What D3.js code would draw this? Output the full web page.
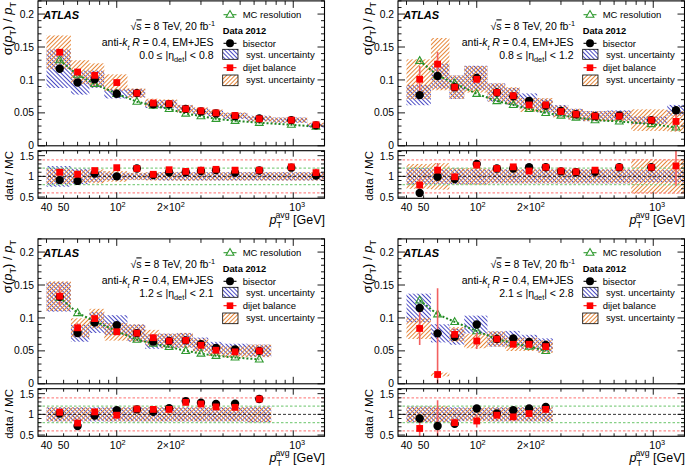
<!DOCTYPE html>
<html><head><meta charset="utf-8">
<script src="https://cdn.jsdelivr.net/npm/d3@7"></script>
<style>body{margin:0;background:#fff}svg{display:block}text{font-family:"Liberation Sans",Arial,Helvetica,sans-serif;fill:#000}</style>
</head><body><svg id="c" width="685" height="468"></svg>
<script>
// ---------------- data ----------------
const binEdges   = [40,55,70,85,115,145,175,220,270,330,400,550,750,1200,1500];
const binCenters = [47.5,60,75,100,130,161,198,246,300,365,468,642,975,1345];
const xTickLabels = [[40,"40"],[50,"50"],[100,"10","2"],[200,"2×10","2"],[1000,"10","3"]];
const mainYTicks = ["0","0.05","0.1","0.15","0.2"];
const ratioYTicks = ["0.5","1","1.5"];
const etaRanges = [["0.0","0.8"],["0.8","1.2"],["1.2","2.1"],["2.1","2.8"]];

// panel 1 : 0.0 <= |eta| < 0.8
const p1_mc   = [0.130,0.108,0.094,0.079,0.067,0.061,0.056,0.049,0.045,0.041,0.038,0.035,0.032,0.029];
const p1_bis  = [0.117,0.096,0.101,0.079,0.080,0.063,0.063,0.056,0.052,0.049,0.045,0.0415,0.039,0.031];
const p1_dij  = [0.142,0.112,0.107,0.096,0.080,0.065,0.064,0.056,0.053,0.050,0.046,0.041,0.039,0.032];
const p1_rbis = [0.91,0.89,1.07,1.00,1.19,1.03,1.10,1.10,1.13,1.15,1.09,1.14,1.21,1.02];
const p1_rdij = [1.10,1.05,1.14,1.21,1.19,1.05,1.16,1.12,1.15,1.17,1.15,1.15,1.23,1.09];
const p1_sysb = [0.25,0.19,0.13,0.09,0.08,0.09,0.10,0.10,0.10,0.10,0.10,0.10,0.10,0.10];
const p1_sysd = [0.18,0.16,0.17,0.13,0.09,0.10,0.10,0.11,0.10,0.10,0.10,0.10,0.10,0.10];
const p1_stat = [0.02,0.02,0.02,0.01,0.01,0.01,0.01,0.01,0.01,0.01,0.01,0.02,0.03,0.09];

// panel 2 : 0.8 <= |eta| < 1.2
const p2_mc   = [0.129,0.107,0.095,0.079,0.068,0.062,0.056,0.050,0.046,0.043,0.039,0.037,0.033,0.028];
const p2_bis  = [0.077,0.106,0.089,0.103,0.081,0.075,0.068,0.061,0.053,0.048,0.045,0.046,0.039,0.054];
const p2_dij  = [0.101,0.124,0.089,0.101,0.081,0.076,0.062,0.062,0.052,0.048,0.045,0.045,0.039,0.037];
const p2_rbis = [0.60,0.99,0.935,1.30,1.19,1.19,1.22,1.22,1.12,1.10,1.11,1.22,1.22,1.93];
const p2_rdij = [0.79,1.15,0.99,1.27,1.19,1.23,1.13,1.22,1.13,1.11,1.15,1.22,1.22,1.25];
const p2_sysb = [0.20,0.18,0.20,0.18,0.17,0.17,0.17,0.17,0.17,0.17,0.17,0.17,0.15,0.15];
const p2_sysd = [0.30,0.32,0.20,0.20,0.17,0.17,0.17,0.17,0.17,0.17,0.17,0.17,0.42,0.42];
const p2_stat = [0.20,0.15,0.05,0.05,0.03,0.03,0.03,0.03,0.02,0.02,0.02,0.02,0.03,0.38];

// panel 3 : 1.2 <= |eta| < 2.1
const p3_mc   = [0.131,0.1075,0.095,0.080,0.067,0.061,0.056,0.050,0.046,0.0425,0.040,0.037];
const p3_bis  = [0.132,0.077,0.093,0.089,0.077,0.064,0.065,0.066,0.060,0.0545,0.052,0.050];
const p3_dij  = [0.133,0.085,0.099,0.079,0.077,0.070,0.065,0.066,0.0585,0.051,0.0485,0.050];
const p3_rbis = [1.02,0.72,0.97,1.10,1.12,1.06,1.15,1.32,1.28,1.25,1.26,1.37];
const p3_rdij = [1.05,0.79,1.06,0.98,1.13,1.12,1.12,1.29,1.25,1.18,1.17,1.37];
const p3_sysb = [0.17,0.17,0.17,0.17,0.17,0.17,0.17,0.17,0.17,0.17,0.17,0.19];
const p3_sysd = [0.17,0.17,0.15,0.17,0.17,0.17,0.17,0.17,0.17,0.17,0.17,0.19];
const p3_stat = [0.11,0.08,0.04,0.03,0.03,0.02,0.02,0.02,0.02,0.02,0.02,0.02];

// panel 4 : 2.1 <= |eta| < 2.8
const p4_mc   = [0.1266,0.1056,0.094,0.080,0.068,0.0615,0.0565,0.050];
const p4_bis  = [0.115,0.0766,0.0715,0.090,0.068,0.0687,0.0636,0.059];
const p4_dij  = [0.084,0.0141,0.075,0.065,0.068,0.060,0.060,0.0565];
const p4_rbis = [0.90,0.72,0.77,1.14,1.02,1.10,1.14,1.18];
const p4_rdij = [0.66,0.13,0.80,0.84,0.98,0.94,1.02,1.12];
const p4_sysb = [0.19,0.18,0.17,0.15,0.17,0.17,0.17,0.17];
const p4_sysd = [0.19,0.20,0.15,0.17,0.17,0.17,0.17,0.17];
const p4_stat = [0.30,9.3,0.12,0.19,0.05,0.05,0.04,0.04];

const panels = [
  {mc:p1_mc,bis:p1_bis,dij:p1_dij,rbis:p1_rbis,rdij:p1_rdij,sysb:p1_sysb,sysd:p1_sysd,stat:p1_stat,eta:etaRanges[0],ox:0,oy:0},
  {mc:p2_mc,bis:p2_bis,dij:p2_dij,rbis:p2_rbis,rdij:p2_rdij,sysb:p2_sysb,sysd:p2_sysd,stat:p2_stat,eta:etaRanges[1],ox:360,oy:0},
  {mc:p3_mc,bis:p3_bis,dij:p3_dij,rbis:p3_rbis,rdij:p3_rdij,sysb:p3_sysb,sysd:p3_sysd,stat:p3_stat,eta:etaRanges[2],ox:0,oy:238},
  {mc:p4_mc,bis:p4_bis,dij:p4_dij,rbis:p4_rbis,rdij:p4_rdij,sysb:p4_sysb,sysd:p4_sysd,stat:p4_stat,eta:etaRanges[3],ox:360,oy:238}
];

// ---------------- drawing ----------------
const BLUE="#4a4ac4", ORANGE="#e6873a", RED="#ff0000", GREEN="#2f9a2f", DKGREEN="#1f861f";
const svg = d3.select("#c");
const defs = svg.append("defs");
function hatch(id,color,angle){
  const p=defs.append("pattern").attr("id",id).attr("patternUnits","userSpaceOnUse")
    .attr("width",3).attr("height",3).attr("patternTransform",`rotate(${angle})`);
  p.append("line").attr("x1",0.5).attr("y1",-1).attr("x2",0.5).attr("y2",4)
    .attr("stroke",color).attr("stroke-width",1);
}
hatch("hb",BLUE,-45); hatch("ho",ORANGE,45);

function rich(g,x,y,parts,size,anchor){
  const t=g.append("text").attr("x",x).attr("y",y).attr("font-size",size).attr("text-anchor",anchor||"start");
  let cur=0;
  parts.forEach(p=>{
    if(typeof p==="string") p={t:p};
    let off=0;
    if(p.off!==undefined) off=p.off; else if(p.sub) off=size*0.3; else if(p.sup) off=-size*0.4;
    const ts=t.append("tspan").text(p.t).attr("dy",off-cur);
    cur=off;
    if(p.sub||p.sup) ts.attr("font-size",size*0.7);
    if(p.fs) ts.attr("font-size",p.fs);
    if(p.it) ts.attr("font-style","italic");
    if(p.b) ts.attr("font-weight","bold");
    if(p.dx) ts.attr("dx",p.dx);
    if(p.ov) ts.attr("text-decoration","overline");
  });
  return t;
}
const triPath="M0,-4.2L3.9,2.6L-3.9,2.6Z";

panels.forEach((P,k)=>{
  const {ox,oy}=P, n=P.mc.length;
  const cen=binCenters.slice(0,n), edg=binEdges.slice(0,n+1);
  const idx=d3.range(n);
  const x=d3.scaleLog().domain([35.8,1503]).range([ox+38,ox+324.5]);
  const y=d3.scaleLinear().domain([0,0.22]).range([oy+145.8,oy+0.9]);
  const yr=d3.scaleLinear().domain([0.47,1.62]).range([oy+198.3,oy+150.7]);
  const g=svg.append("g");
  const X0=ox+38, X1=ox+324.5;

  defs.append("clipPath").attr("id","cm"+k).append("rect").attr("x",X0).attr("y",y(0.22)).attr("width",X1-X0).attr("height",y(0)-y(0.22));
  defs.append("clipPath").attr("id","cr"+k).append("rect").attr("x",X0).attr("y",yr(1.62)).attr("width",X1-X0).attr("height",yr(0.47)-yr(1.62));

  // ---- main panel ----
  const gm=g.append("g").attr("clip-path",`url(#cm${k})`);
  const box=(sel,vals,sys,fill,yy,center)=>sel.selectAll(null).data(idx).join("rect")
      .attr("x",i=>x(edg[i])).attr("width",i=>x(edg[i+1])-x(edg[i]))
      .attr("y",i=>yy((center?1:vals[i])*(1+sys[i])))
      .attr("height",i=>yy((center?1:vals[i])*(1-sys[i]))-yy((center?1:vals[i])*(1+sys[i])))
      .attr("fill",fill);
  box(gm,P.bis,P.sysb,"url(#hb)",y,false);
  box(gm,P.dij,P.sysd,"url(#ho)",y,false);
  gm.append("path").datum(idx).attr("d",d3.line().x(i=>x(cen[i])).y(i=>y(P.mc[i])))
    .attr("fill","none").attr("stroke",DKGREEN).attr("stroke-width",2).attr("stroke-dasharray","2,2");
  gm.selectAll(null).data(idx).join("path").attr("d",triPath)
    .attr("transform",i=>`translate(${x(cen[i])},${y(P.mc[i])})`)
    .attr("fill","none").attr("stroke",GREEN).attr("stroke-width",1.1);
  gm.selectAll(null).data(idx).join("line")
    .attr("x1",i=>x(cen[i])).attr("x2",i=>x(cen[i]))
    .attr("y1",i=>y(P.dij[i]*(1+P.stat[i]))).attr("y2",i=>y(Math.max(-0.05,P.dij[i]*(1-P.stat[i]))))
    .attr("stroke","#f26060").attr("stroke-width",1.6);
  gm.selectAll(null).data(idx).join("circle").attr("cx",i=>x(cen[i])).attr("cy",i=>y(P.bis[i])).attr("r",4.2).attr("fill","#000");
  gm.selectAll(null).data(idx).join("rect").attr("x",i=>x(cen[i])-3.4).attr("y",i=>y(P.dij[i])-3.4)
    .attr("width",6.8).attr("height",6.8).attr("fill",RED);

  // ---- ratio panel ----
  const gr=g.append("g").attr("clip-path",`url(#cr${k})`);
  box(gr,null,P.sysb,"url(#hb)",yr,true);
  box(gr,null,P.sysd,"url(#ho)",yr,true);
  const refs=[[0.6,"#ff8c8c"],[1.4,"#ff8c8c"],[0.8,"#86d086"],[1.2,"#86d086"]];
  refs.forEach(([v,c])=>gr.append("line").attr("x1",X0).attr("x2",X1).attr("y1",yr(v)).attr("y2",yr(v))
    .attr("stroke",c).attr("stroke-width",1.2).attr("stroke-dasharray","2.5,2"));
  gr.append("line").attr("x1",X0).attr("x2",X1).attr("y1",yr(1)).attr("y2",yr(1))
    .attr("stroke","#000").attr("stroke-width",0.8).attr("stroke-dasharray","3,2");
  gr.selectAll(null).data(idx).join("line")
    .attr("x1",i=>x(cen[i])).attr("x2",i=>x(cen[i]))
    .attr("y1",i=>yr(P.rdij[i]*(1+P.stat[i]))).attr("y2",i=>yr(P.rdij[i]*(1-P.stat[i])))
    .attr("stroke","#f26060").attr("stroke-width",1.6);
  gr.selectAll(null).data(idx).join("circle").attr("cx",i=>x(cen[i])).attr("cy",i=>yr(P.rbis[i])).attr("r",4.2).attr("fill","#000");
  gr.selectAll(null).data(idx).join("rect").attr("x",i=>x(cen[i])-3.4).attr("y",i=>yr(P.rdij[i])-3.4)
    .attr("width",6.8).attr("height",6.8).attr("fill",RED);

  // ---- frames & ticks ----
  const fr=(yt,yb)=>g.append("rect").attr("x",X0).attr("y",yt).attr("width",X1-X0).attr("height",yb-yt)
    .attr("fill","none").attr("stroke","#000").attr("stroke-width",1.1);
  fr(y(0.22),y(0)); fr(yr(1.62),yr(0.47));
  const tk=(x1,y1,x2,y2)=>g.append("line").attr("x1",x1).attr("y1",y1).attr("x2",x2).attr("y2",y2).attr("stroke","#000").attr("stroke-width",0.9);
  const xt=[40,50,60,70,80,90,100,200,300,400,500,600,700,800,900,1000];
  [[y(0),y(0.22),7,4],[yr(0.47),yr(1.62),6,3]].forEach(([yb,yt,lm,ln])=>{
    xt.forEach(p=>{const L=(p===100||p===1000)?lm:ln; tk(x(p),yb,x(p),yb-L); tk(x(p),yt,x(p),yt+L);});
  });
  for(let j=0;j<=22;j++){const v=j/100, L=(j%5===0)?7:3.5; tk(X0,y(v),X0+L,y(v)); tk(X1,y(v),X1-L,y(v));}
  for(let j=5;j<=16;j++){const v=j/10, L=(j%5===0)?7:3.5; tk(X0,yr(v),X0+L,yr(v)); tk(X1,yr(v),X1-L,yr(v));}

  // tick labels
  mainYTicks.forEach(s=>g.append("text").attr("x",ox+34).attr("y",y(+s)+(s==="0"?3:3.6)).attr("font-size",10.3).attr("text-anchor","end").text(s));
  ratioYTicks.forEach(s=>g.append("text").attr("x",ox+34).attr("y",yr(+s)+(s==="1.5"?4:3.6)).attr("font-size",10.3).attr("text-anchor","end").text(s));
  xTickLabels.forEach(([p,a,b])=>{
    const parts=[a]; if(b) parts.push({t:b,sup:true});
    rich(g,x(p)+(b?(p===1000?4:1):0),oy+210.8,parts,10.5,"middle");
  });

  // axis titles
  const yl=rich(g,ox+12,oy+2,["σ(",{t:"p",it:true},{t:"T",sub:true},") / ",{t:"p",it:true},{t:"T",sub:true}],13,"end");
  yl.attr("transform",`rotate(-90 ${ox+12} ${oy+2})`);
  const rl=rich(g,ox+13,oy+151,["data / MC"],11.5,"end");
  rl.attr("transform",`rotate(-90 ${ox+13} ${oy+151})`);
  rich(g,ox+325,oy+224,[{t:"p",it:true},{t:"T",off:4.3,fs:8.75},{t:"avg",off:-6.5,dx:-5.3,fs:8.75},{t:" [GeV]",off:0}],12.5,"end");

  // text block
  rich(g,ox+43.3,oy+18.6,[{t:"ATLAS",b:true,it:true}],11,"start");
  rich(g,ox+215,oy+30.4,["√",{t:"s",ov:true}," = 8 TeV, 20 fb",{t:"-1",sup:true}],10.5,"end");
  rich(g,ox+213.5,oy+46.4,["anti-",{t:"k",it:true},{t:"t",sub:true,it:true}," ",{t:"R",it:true}," = 0.4, EM+JES"],10.5,"end");
  rich(g,ox+213.5,oy+58.7,[P.eta[0]+" ≤ |η",{t:"det",sub:true},"| < "+P.eta[1]],10.5,"end");

  // legend
  const LX=ox+230;
  g.append("line").attr("x1",LX-6.5).attr("x2",LX+6.5).attr("y1",oy+14.7).attr("y2",oy+14.7).attr("stroke",GREEN).attr("stroke-width",1.1);
  g.append("path").attr("d",triPath).attr("transform",`translate(${LX},${oy+14.7})`).attr("fill","#fff").attr("stroke",GREEN).attr("stroke-width",1.1);
  rich(g,ox+242.7,oy+18,["MC resolution"],9.5,"start");
  rich(g,ox+222.7,oy+34,[{t:"Data 2012",b:true}],9.3,"start");
  g.append("line").attr("x1",LX-6.5).attr("x2",LX+6.5).attr("y1",oy+43.3).attr("y2",oy+43.3).attr("stroke","#000").attr("stroke-width",1.1);
  g.append("circle").attr("cx",LX).attr("cy",oy+43.3).attr("r",4).attr("fill","#000");
  rich(g,ox+242.7,oy+46.6,["bisector"],9.5,"start");
  g.append("rect").attr("x",ox+222.7).attr("y",oy+49.3).attr("width",15.3).attr("height",10).attr("fill","url(#hb)").attr("stroke","#000").attr("stroke-width",0.8);
  rich(g,ox+246,oy+57.6,["syst. uncertainty"],9.5,"start");
  g.append("line").attr("x1",LX-6.5).attr("x2",LX+6.5).attr("y1",oy+67.7).attr("y2",oy+67.7).attr("stroke",RED).attr("stroke-width",1.1);
  g.append("rect").attr("x",LX-3.3).attr("y",oy+64.4).attr("width",6.6).attr("height",6.6).attr("fill",RED);
  rich(g,ox+242.7,oy+71,["dijet balance"],9.5,"start");
  g.append("rect").attr("x",ox+222.7).attr("y",oy+75).attr("width",15.3).attr("height",10.7).attr("fill","url(#ho)").attr("stroke","#000").attr("stroke-width",0.8);
  rich(g,ox+246,oy+83.3,["syst. uncertainty"],9.5,"start");
});
</script></body></html>
